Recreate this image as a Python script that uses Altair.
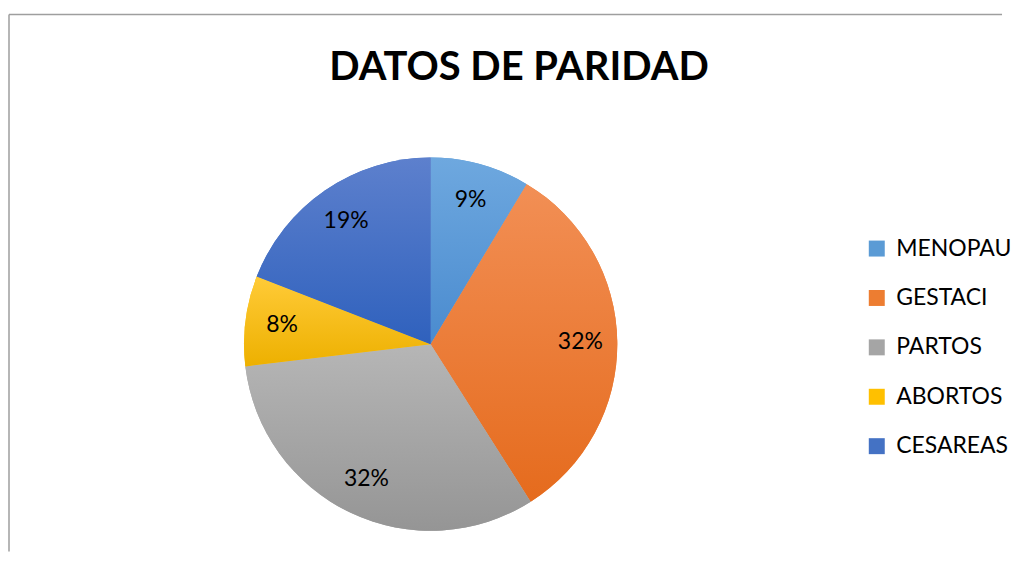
import altair as alt
import pandas as pd

categories = ["MENOPAU", "GESTACI", "PARTOS", "ABORTOS", "CESAREAS"]
values = [8.6, 32.4, 32.1, 7.8, 19.1]
colors = ["#5B9BD5", "#ED7D31", "#A5A5A5", "#FFC000", "#4472C4"]
grad_top = ["#6EA8DF", "#F28F55", "#B6B6B6", "#FFCB38", "#5D80CD"]
grad_bottom = ["#4A8BCF", "#E56B1D", "#959595", "#EDB000", "#2F61BD"]
title_text = "DATOS DE PARIDAD"

df = pd.DataFrame({"cat": categories, "value": values, "order": list(range(len(categories)))})
one = pd.DataFrame({"t": [title_text]})

W, H = 995, 538
CX, CY = 422.5, 330.3
R = 187
FONT = "Lato"

theta_scale = alt.Scale(domain=[0, 100])

base = alt.Chart(df).transform_window(
    cum="sum(value)", sort=[alt.SortField("order")], frame=[None, 0]
).transform_calculate(
    start="datum.cum - datum.value",
    mid="datum.cum - datum.value / 2",
    label="format(datum.value, '.0f') + '%'",
)

frame_left = alt.Chart(one).mark_rule(color="#9e9e9e", strokeWidth=1.5).encode(
    x=alt.value(0), y=alt.value(0), y2=alt.value(H)
)
frame_top = alt.Chart(one).mark_rule(color="#9e9e9e", strokeWidth=1.5).encode(
    x=alt.value(0), x2=alt.value(W), y=alt.value(0)
)

title = alt.Chart(one).mark_text(
    font=FONT, fontWeight="bold", fontSize=40, baseline="alphabetic",
    align="center", color="black"
).encode(text="t:N", x=alt.value(511), y=alt.value(65.3))

legend_arc = base.mark_arc(outerRadius=R).encode(
    theta=alt.Theta("start:Q", scale=theta_scale),
    theta2="cum:Q",
    color=alt.Color(
        "cat:N",
        scale=alt.Scale(domain=categories, range=colors),
        sort=categories,
        legend=alt.Legend(
            orient="none", legendX=858, legendY=223, title=None,
            symbolType="square", symbolSize=256, symbolStrokeWidth=0,
            symbolOpacity=1, labelFont=FONT, labelFontSize=23,
            labelColor="black", labelOffset=8, rowPadding=25.5, padding=0,
        ),
    ),
    x=alt.value(CX), y=alt.value(CY),
)

grad_layers = []
for i, c in enumerate(categories):
    grad_layers.append(
        base.transform_filter(alt.datum.cat == c).mark_arc(
            outerRadius=R,
            fill=alt.Gradient(
                gradient="linear",
                stops=[
                    alt.GradientStop(color=grad_top[i], offset=0),
                    alt.GradientStop(color=grad_bottom[i], offset=1),
                ],
                x1=0, x2=0, y1=0, y2=1,
            ),
        ).encode(
            theta=alt.Theta("start:Q", scale=theta_scale),
            theta2="cum:Q",
            x=alt.value(CX), y=alt.value(CY),
        )
    )

labels = base.mark_text(
    radius=150, font=FONT, fontSize=23, color="black"
).encode(
    theta=alt.Theta("mid:Q", scale=theta_scale),
    text="label:N",
    x=alt.value(CX), y=alt.value(CY),
)

chart = alt.layer(
    frame_left, frame_top, title, legend_arc, *grad_layers, labels
).properties(
    width=W, height=H,
    padding={"left": 0, "top": 5, "right": 0, "bottom": 0},
    background="white",
).configure_view(stroke=None)

chart.save("out.html", embed_options={"renderer": "svg", "actions": False})
